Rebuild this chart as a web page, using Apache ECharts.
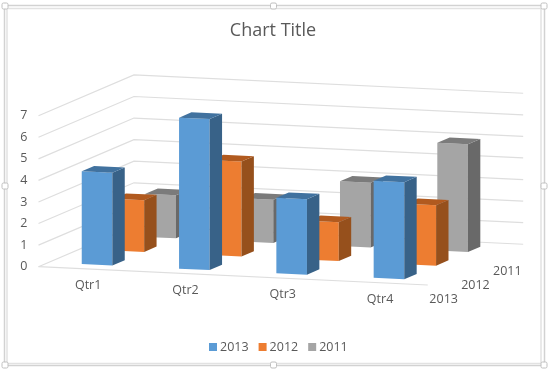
<!DOCTYPE html>
<html>
<head>
<meta charset="utf-8">
<style>html,body{margin:0;padding:0;background:#fff}#c{width:550px;height:372px}</style>
<script src="https://cdn.jsdelivr.net/npm/echarts@6/dist/echarts.min.js"></script>
</head>
<body>
<div id="c"></div>
<script>
var titleText = 'Chart Title';
var categories = ['Qtr1', 'Qtr2', 'Qtr3', 'Qtr4'];
var seriesNames = ['2013', '2012', '2011'];
var values2013 = [4.3, 7, 3.5, 4.5];
var values2012 = [2.4, 4.4, 1.8, 2.8];
var values2011 = [2, 2, 3, 5];
var valueTicks = [0, 1, 2, 3, 4, 5, 6, 7];

// oblique view: one depth row moves the plane point by these amounts (axis units)
var depthDX = 0.327, depthDY = 0.63, catDY = -0.2123;
var barStart = 0.343, barWidth = 0.3145, depthStart = 0.31, depthSize = 0.39;
var font = '"Open Sans", "Noto Sans", sans-serif';
var textColor = '#595959';

function proj(api, cat, depth, val) {
  return api.coord([cat + depth * depthDX, val + cat * catDY + depth * depthDY]);
}

function barSeries(name, depth, values, front, side, top) {
  return {
    type: 'custom', name: name, clip: false, silent: true,
    itemStyle: { color: front },
    data: values.map(function (v, i) { return [i, v]; }),
    renderItem: function (params, api) {
      var c = api.value(0), v = api.value(1);
      var u0 = c + barStart, u1 = u0 + barWidth;
      var d0 = depth + depthStart, d1 = d0 + depthSize;
      var p = function (u, d, z) { return proj(api, u, d, z); };
      return { type: 'group', children: [
        { type: 'polygon', shape: { points: [p(u0,d0,0), p(u1,d0,0), p(u1,d0,v), p(u0,d0,v)] }, style: { fill: front } },
        { type: 'polygon', shape: { points: [p(u1,d0,0), p(u1,d1,0), p(u1,d1,v), p(u1,d0,v)] }, style: { fill: side } },
        { type: 'polygon', shape: { points: [p(u0,d0,v), p(u1,d0,v), p(u1,d1,v), p(u0,d1,v)] }, style: { fill: top } }
      ] };
    }
  };
}

var wall = {
  type: 'custom', clip: false, silent: true, z: 1,
  data: valueTicks.map(function (v) { return [v]; }),
  renderItem: function (params, api) {
    var v = api.value(0), n = categories.length, d = seriesNames.length;
    var kids = [{ type: 'polyline', shape: { points: [proj(api,0,0,v), proj(api,0,d,v), proj(api,n,d,v)] },
      style: { stroke: '#dedede', lineWidth: 1.2, fill: null } }];
    if (v === 0) kids.push({ type: 'line', shape: { x1: proj(api,0,0,0)[0], y1: proj(api,0,0,0)[1], x2: proj(api,n,0,0)[0], y2: proj(api,n,0,0)[1] },
      style: { stroke: '#dedede', lineWidth: 1.2 } });
    return { type: 'group', children: kids };
  }
};

var catLabels = {
  type: 'custom', clip: false, silent: true,
  data: categories.map(function (c, i) { return [i]; }),
  renderItem: function (params, api) {
    var i = api.value(0), p = proj(api, i + 0.5, 0, 0);
    return { type: 'text', style: { text: categories[i], x: p[0] + 1, y: p[1] + 16.5, align: 'center', verticalAlign: 'middle', font: '12.5px ' + font, fill: textColor } };
  }
};

var depthLabels = {
  type: 'custom', clip: false, silent: true,
  data: seriesNames.map(function (c, i) { return [i]; }),
  renderItem: function (params, api) {
    var i = api.value(0), p = proj(api, categories.length, i + 0.5, 0);
    return { type: 'text', style: { text: seriesNames[i], x: p[0], y: p[1] + 20.8, align: 'center', verticalAlign: 'middle', font: '12.5px ' + font, fill: textColor } };
  }
};

function frameRect(x, y, w, h, stroke) {
  return { type: 'rect', shape: { x: x, y: y, width: w, height: h }, style: { fill: null, stroke: stroke, lineWidth: 1.5 }, silent: true };
}
function handle(cx, cy) {
  return { type: 'rect', shape: { x: cx - 3, y: cy - 3, width: 6, height: 6, r: 1.5 }, style: { fill: '#fff', stroke: '#c0c0c0', lineWidth: 1 }, silent: true, z: 10 };
}

var chart = echarts.init(document.getElementById('c'), null, { renderer: 'canvas' });
chart.setOption({
  animation: false,
  backgroundColor: '#fff',
  title: { text: titleText, left: 268, top: 17, textAlign: 'center',
    textStyle: { color: textColor, fontFamily: font, fontSize: 18, fontWeight: 'normal' } },
  legend: { data: seriesNames, left: 204, top: 335.5, itemWidth: 8, itemHeight: 8, itemGap: 10, icon: 'rect', selectedMode: false,
    textStyle: { color: textColor, fontFamily: font, fontSize: 12.5, padding: [0,0,0,-2] } },
  grid: { left: 38.5, top: 115.7, width: 484.2, height: 151 },
  xAxis: { type: 'value', show: false, min: 0, max: 4.976 },
  yAxis: { type: 'value', min: 0, max: 7, interval: 1,
    axisLine: { show: false }, axisTick: { show: false }, splitLine: { show: false },
    axisLabel: { color: textColor, fontFamily: font, fontSize: 12.5, margin: 11, padding: [2,0,0,0] } },
  series: [
    wall,
    barSeries('2011', 2, values2011, '#A5A5A5', '#696969', '#7B7B7B'),
    barSeries('2012', 1, values2012, '#ED7D31', '#96501C', '#B15A1F'),
    barSeries('2013', 0, values2013, '#5B9BD5', '#386288', '#41729F'),
    catLabels,
    depthLabels
  ],
  graphic: { elements: [
    frameRect(4.5, 5.5, 540, 360, '#d2d2d2'),
    frameRect(7, 8.5, 534, 355, '#e2e2e2'),
    handle(5, 6), handle(273.5, 6), handle(544, 6),
    handle(5, 186), handle(544, 186),
    handle(5, 365), handle(273.5, 365), handle(544, 365)
  ] }
});
</script>
</body>
</html>
